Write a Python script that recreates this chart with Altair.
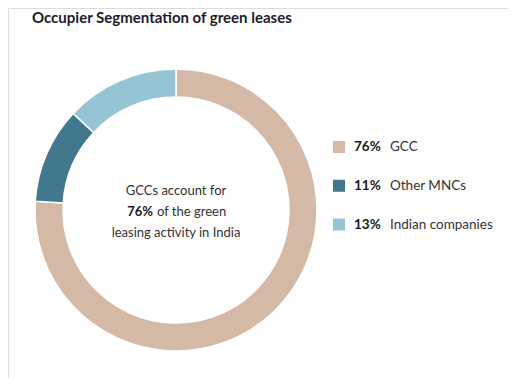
import altair as alt
import pandas as pd

categories = ["GCC", "Other MNCs", "Indian companies"]
shares = [76, 11, 13]
share_labels = ["76%", "11%", "13%"]
colors = ["#d4b9a7", "#41788d", "#95c5d5"]

title_text = "Occupier Segmentation of green leases"
center_line1 = "GCCs account for"
center_bold = "76%"
center_rest = "of the green"
center_line3 = "leasing activity in India"

FONT = "Lato"

df = pd.DataFrame({
    "label": categories,
    "share": shares,
    "pct": share_labels,
    "idx": list(range(len(categories))),
})

color_scale = alt.Scale(domain=categories, range=colors)

CX, CY = 168, 202

arc = alt.Chart(df).mark_arc(
    outerRadius=141, innerRadius=113, stroke="white", strokeWidth=1.5
).encode(
    theta=alt.Theta("share:Q", stack=True),
    color=alt.Color("label:N", scale=color_scale, legend=None),
    order=alt.Order("idx:Q"),
    x=alt.value(CX),
    y=alt.value(CY),
)

ypos = alt.Y("label:N", sort=categories,
             scale=alt.Scale(range=[139, 216.5], padding=0), axis=None)

leg_sq = alt.Chart(df).mark_square(size=144, opacity=1).encode(
    x=alt.value(331),
    y=ypos,
    color=alt.Color("label:N", scale=color_scale, legend=None),
)
leg_pct = alt.Chart(df).mark_text(
    align="left", baseline="middle", font=FONT, fontSize=13.5, fontWeight="bold", color="#1a1a1a"
).encode(x=alt.value(346), y=ypos, text="pct:N")
leg_lab = alt.Chart(df).mark_text(
    align="left", baseline="middle", font=FONT, fontSize=13.5, color="#333333"
).encode(x=alt.value(382), y=ypos, text="label:N")

tdf = pd.DataFrame({"t": [title_text]})
title = alt.Chart(tdf).mark_text(
    align="left", baseline="alphabetic", font=FONT, fontSize=15, fontWeight="bold", color="#1b1b2b"
).encode(x=alt.value(24), y=alt.value(15), text="t:N")

c1 = alt.Chart(pd.DataFrame({"t": [center_line1]})).mark_text(
    align="center", baseline="alphabetic", font=FONT, fontSize=13, color="#333333"
).encode(x=alt.value(CX), y=alt.value(187), text="t:N")
c2a = alt.Chart(pd.DataFrame({"t": [center_bold]})).mark_text(
    align="right", baseline="alphabetic", font=FONT, fontSize=13, fontWeight="bold", color="#1a1a1a"
).encode(x=alt.value(145), y=alt.value(208), text="t:N")
c2b = alt.Chart(pd.DataFrame({"t": [center_rest]})).mark_text(
    align="left", baseline="alphabetic", font=FONT, fontSize=13, color="#333333"
).encode(x=alt.value(149), y=alt.value(208), text="t:N")
c3 = alt.Chart(pd.DataFrame({"t": [center_line3]})).mark_text(
    align="center", baseline="alphabetic", font=FONT, fontSize=13, color="#333333"
).encode(x=alt.value(CX), y=alt.value(229), text="t:N")

chart = alt.layer(arc, leg_sq, leg_pct, leg_lab, title, c1, c2a, c2b, c3).properties(
    width=500, height=370,
    autosize=alt.AutoSizeParams(type="none"),
    padding=0,
).configure_view(stroke=None).configure(background="white")

chart.save("out.html", embed_options={"renderer": "svg", "actions": False})
